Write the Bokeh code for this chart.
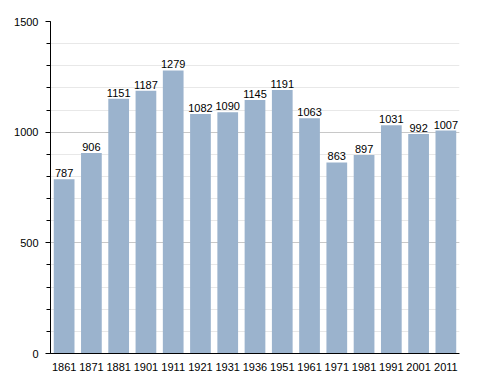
from bokeh.plotting import figure
from bokeh.models import ColumnDataSource, FactorRange, Range1d, FixedTicker
from bokeh.embed import file_html
from bokeh.resources import INLINE
from bokeh.core.properties import value

years = ["1861", "1871", "1881", "1901", "1911", "1921", "1931", "1936",
         "1951", "1961", "1971", "1981", "1991", "2001", "2011"]
population = [787, 906, 1151, 1187, 1279, 1082, 1090, 1145,
              1191, 1063, 863, 897, 1031, 992, 1007]
labels = [str(v) for v in population]

FONT = "Liberation Sans"

src = ColumnDataSource(dict(x=years, y=population, t=labels))

p = figure(x_range=FactorRange(*years, range_padding=0), y_range=Range1d(0, 1500),
           frame_width=409, frame_height=332, output_backend="svg",
           toolbar_location=None, min_border_left=50, min_border_right=29,
           min_border_top=21, min_border_bottom=20)
p.outline_line_color = None
p.background_fill_color = "white"

p.vbar(x="x", top="y", width=0.76, source=src, fill_color="#9bb3cd",
       line_color=None)
p.text(x="x", y="y", text="t", source=src, text_align="center",
       text_baseline="bottom", y_offset=-2, text_font_size="11px",
       text_font=value(FONT), text_color="black")

p.yaxis.ticker = FixedTicker(ticks=[0, 500, 1000, 1500],
                             minor_ticks=list(range(0, 1501, 100)))
p.yaxis.major_tick_out = 5
p.yaxis.major_tick_in = 0
p.yaxis.minor_tick_out = 4
p.yaxis.minor_tick_in = 0
p.yaxis.axis_line_color = "black"
p.yaxis.major_tick_line_color = "black"
p.yaxis.minor_tick_line_color = "black"
p.yaxis.major_label_standoff = 7
p.yaxis.major_label_text_font = FONT
p.yaxis.major_label_text_font_size = "11px"
p.yaxis.major_label_text_color = "black"

p.xaxis.major_tick_line_color = None
p.xaxis.minor_tick_line_color = None
p.xaxis.axis_line_color = "black"
p.xaxis.major_label_standoff = 3
p.xaxis.major_label_text_font = FONT
p.xaxis.major_label_text_font_size = "11px"
p.xaxis.major_label_text_color = "black"

p.xgrid.grid_line_color = None
p.ygrid.grid_line_color = "#c8c8c8"
p.ygrid.minor_grid_line_color = "#e8e8e8"

open("out.html", "w").write(file_html(p, INLINE))
